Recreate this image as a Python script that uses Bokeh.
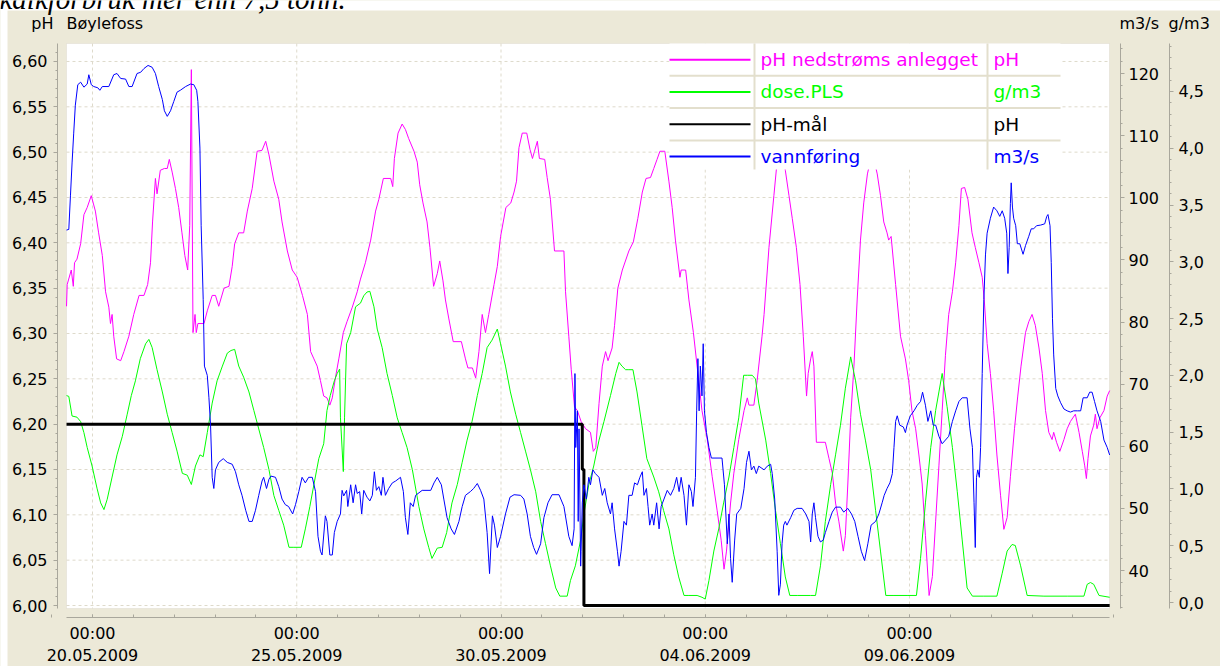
import numpy as np
import pandas as pd
from bokeh.plotting import figure
from bokeh.models import (Range1d, LinearAxis, FixedTicker, SingleIntervalTicker,
                          CustomJSTickFormatter, BoxAnnotation, Label, ColumnDataSource)
from bokeh.embed import file_html
from bokeh.resources import INLINE

# ---------------- data (time = days after 20.05.2009 00:00) ----------------
BASE = pd.Timestamp("2009-05-20 00:00")

ph_days = [-0.636, -0.62, -0.52, -0.47, -0.44, -0.38, -0.29, -0.21, -0.13, -0.03, 0.07, 0.15, 0.24, 0.32,
           0.40, 0.44, 0.48, 0.52, 0.59, 0.69, 0.77, 0.89, 1.01, 1.14, 1.26, 1.35, 1.42, 1.47, 1.54, 1.58,
           1.66, 1.76, 1.83, 1.88, 1.95, 2.03, 2.11, 2.19, 2.26, 2.33, 2.38, 2.42, 2.46, 2.51, 2.54, 2.58,
           2.73, 2.81, 2.93, 3.01, 3.09, 3.22, 3.34, 3.42, 3.48, 3.58, 3.70, 3.79, 3.91, 4.03, 4.15, 4.24,
           4.32, 4.44, 4.56, 4.64, 4.77, 4.89, 5.01, 5.14, 5.26, 5.34, 5.42, 5.50, 5.58, 5.66, 5.74, 5.81,
           5.87, 5.95, 6.03, 6.14, 6.23, 6.36, 6.48, 6.56, 6.68, 6.81, 6.93, 7.01, 7.12, 7.30, 7.35, 7.39,
           7.48, 7.58, 7.66, 7.74, 7.87, 7.95, 8.01, 8.09, 8.19, 8.26, 8.35, 8.44, 8.50, 8.58, 8.64, 8.72,
           8.83, 9.03, 9.13, 9.19, 9.30, 9.38, 9.46, 9.54, 9.62, 9.70, 9.83, 9.91, 9.99, 10.12, 10.24, 10.32,
           10.38, 10.44, 10.52, 10.63, 10.71, 10.77, 10.82, 10.89, 10.94, 11.07, 11.13, 11.21, 11.31, 11.54,
           11.58, 11.66, 11.72, 11.80, 11.87, 11.96, 12.07, 12.19, 12.26, 12.32, 12.40, 12.48, 12.56, 12.62,
           12.72, 12.78, 12.86, 12.97, 13.13, 13.24, 13.35, 13.46, 13.55, 13.66, 13.74, 13.82, 13.89, 14.01,
           14.11, 14.19, 14.27, 14.38, 14.41, 14.52, 14.60, 14.71, 14.82, 14.92, 15.05, 15.17, 15.29, 15.39,
           15.46, 15.52, 15.62, 15.70, 15.82, 15.95, 16.03, 16.07, 16.19, 16.27, 16.39, 16.44, 16.56, 16.68,
           16.76, 16.84, 16.96, 17.05, 17.13, 17.23, 17.32, 17.40, 17.48, 17.52, 17.58, 17.62, 17.66, 17.72,
           17.94, 18.03, 18.11, 18.19, 18.27, 18.38, 18.43, 18.49, 18.56, 18.64, 18.72, 18.80, 18.88, 18.97,
           19.09, 19.21, 19.29, 19.37, 19.45, 19.49, 19.55, 19.66, 19.78, 19.90, 19.98, 20.06, 20.15, 20.23,
           20.31, 20.39, 20.48, 20.56, 20.64, 20.72, 20.80, 20.88, 20.96, 21.05, 21.13, 21.21, 21.27, 21.35,
           21.43, 21.53, 21.61, 21.70, 21.78, 21.83, 21.90, 21.98, 22.06, 22.14, 22.23, 22.31, 22.39, 22.47,
           22.57, 22.65, 22.73, 22.84, 22.92, 23.00, 23.08, 23.17, 23.25, 23.33, 23.41, 23.49, 23.53, 23.60,
           23.68, 23.78, 23.86, 23.94, 24.06, 24.15, 24.23, 24.29, 24.33, 24.37, 24.43, 24.51, 24.55, 24.59,
           24.66, 24.76, 24.84, 24.90]
ph_vals = [6.330, 6.354, 6.370, 6.352, 6.378, 6.382, 6.399, 6.431, 6.439, 6.452, 6.435, 6.411, 6.386, 6.346,
           6.329, 6.311, 6.321, 6.297, 6.272, 6.270, 6.280, 6.297, 6.321, 6.342, 6.342, 6.354, 6.378, 6.423,
           6.471, 6.454, 6.480, 6.482, 6.482, 6.492, 6.478, 6.460, 6.439, 6.411, 6.386, 6.370, 6.419, 6.591,
           6.301, 6.321, 6.301, 6.311, 6.311, 6.325, 6.342, 6.342, 6.330, 6.350, 6.352, 6.374, 6.399, 6.411,
           6.411, 6.435, 6.460, 6.501, 6.502, 6.512, 6.497, 6.468, 6.448, 6.423, 6.391, 6.370, 6.362, 6.342,
           6.321, 6.280, 6.272, 6.264, 6.248, 6.231, 6.229, 6.221, 6.229, 6.252, 6.272, 6.301, 6.313, 6.329,
           6.346, 6.360, 6.378, 6.403, 6.435, 6.448, 6.471, 6.471, 6.462, 6.493, 6.521, 6.531, 6.525, 6.515,
           6.501, 6.489, 6.464, 6.444, 6.423, 6.395, 6.352, 6.366, 6.380, 6.358, 6.337, 6.317, 6.291, 6.291,
           6.272, 6.262, 6.262, 6.251, 6.280, 6.321, 6.301, 6.321, 6.354, 6.374, 6.407, 6.439, 6.444, 6.456,
           6.468, 6.505, 6.521, 6.521, 6.503, 6.493, 6.501, 6.512, 6.493, 6.492, 6.472, 6.448, 6.391, 6.391,
           6.346, 6.297, 6.260, 6.219, 6.215, 6.203, 6.195, 6.191, 6.170, 6.174, 6.223, 6.264, 6.280, 6.270,
           6.284, 6.309, 6.350, 6.370, 6.391, 6.401, 6.427, 6.456, 6.471, 6.472, 6.482, 6.492, 6.501, 6.501,
           6.468, 6.439, 6.403, 6.362, 6.370, 6.370, 6.337, 6.301, 6.256, 6.215, 6.183, 6.142, 6.105, 6.072,
           6.040, 6.060, 6.113, 6.146, 6.183, 6.215, 6.229, 6.221, 6.221, 6.248, 6.297, 6.321, 6.395, 6.452,
           6.490, 6.510, 6.480, 6.452, 6.427, 6.395, 6.354, 6.297, 6.231, 6.256, 6.272, 6.280, 6.264, 6.180,
           6.180, 6.162, 6.146, 6.113, 6.093, 6.060, 6.077, 6.134, 6.207, 6.264, 6.338, 6.403, 6.444, 6.476,
           6.500, 6.476, 6.452, 6.423, 6.411, 6.403, 6.407, 6.354, 6.297, 6.272, 6.248, 6.215, 6.195, 6.166,
           6.134, 6.077, 6.011, 6.032, 6.093, 6.154, 6.215, 6.276, 6.321, 6.346, 6.378, 6.419, 6.460, 6.461,
           6.448, 6.411, 6.395, 6.378, 6.362, 6.337, 6.289, 6.256, 6.215, 6.166, 6.121, 6.084, 6.097, 6.142,
           6.195, 6.231, 6.264, 6.301, 6.313, 6.321, 6.309, 6.284, 6.256, 6.215, 6.191, 6.183, 6.191, 6.180,
           6.170, 6.183, 6.195, 6.203, 6.211, 6.191, 6.170, 6.154, 6.140, 6.162, 6.187, 6.199, 6.211, 6.195,
           6.207, 6.215, 6.231, 6.237]

dose_days = [-0.636, -0.58, -0.50, -0.38, -0.29, -0.21, -0.13, -0.01, 0.11, 0.20, 0.28, 0.36, 0.48, 0.60,
             0.73, 0.85, 0.95, 1.05, 1.17, 1.30, 1.38, 1.46, 1.58, 1.71, 1.83, 1.95, 2.07, 2.20, 2.32, 2.42,
             2.52, 2.63, 2.71, 2.81, 2.93, 3.05, 3.18, 3.30, 3.39, 3.48, 3.58, 3.70, 3.83, 3.95, 4.07, 4.19,
             4.32, 4.44, 4.56, 4.68, 4.81, 4.93, 5.11, 5.21, 5.32, 5.42, 5.54, 5.66, 5.74, 5.82, 5.92, 5.99,
             6.05, 6.07, 6.14, 6.17, 6.22, 6.32, 6.44, 6.56, 6.64, 6.72, 6.79, 6.89, 6.97, 7.09, 7.21, 7.34,
             7.46, 7.58, 7.70, 7.83, 7.99, 8.11, 8.23, 8.31, 8.44, 8.56, 8.67, 8.80, 8.93, 9.05, 9.17, 9.29,
             9.42, 9.54, 9.66, 9.78, 9.91, 9.99, 10.11, 10.23, 10.36, 10.48, 10.60, 10.72, 10.85, 10.97, 11.09,
             11.21, 11.34, 11.44, 11.62, 11.70, 11.82, 11.95, 12.03, 12.15, 12.27, 12.40, 12.52, 12.68, 12.81,
             12.89, 12.96, 13.05, 13.13, 13.23, 13.33, 13.45, 13.57, 13.74, 13.86, 13.98, 14.11, 14.23, 14.35,
             14.48, 14.60, 14.80, 14.92, 15.00, 15.09, 15.21, 15.33, 15.45, 15.58, 15.70, 15.82, 15.94, 16.03,
             16.15, 16.23, 16.31, 16.48, 16.60, 16.72, 16.84, 16.96, 17.07, 17.25, 17.58, 17.70, 17.82, 17.94,
             18.07, 18.19, 18.31, 18.43, 18.56, 18.68, 18.80, 18.92, 19.05, 19.17, 19.29, 19.42, 19.62, 19.94,
             20.17, 20.27, 20.39, 20.52, 20.64, 20.72, 20.80, 20.92, 21.05, 21.17, 21.29, 21.41, 21.54, 21.82,
             22.14, 22.27, 22.39, 22.51, 22.59, 22.72, 22.88, 23.29, 23.86, 24.27, 24.35, 24.43, 24.51, 24.64,
             24.90]
dose_vals = [1.822, 1.815, 1.642, 1.632, 1.593, 1.496, 1.365, 1.202, 1.007, 0.877, 0.818, 0.909, 1.105, 1.300,
             1.463, 1.658, 1.822, 1.952, 2.147, 2.278, 2.317, 2.245, 2.050, 1.854, 1.658, 1.496, 1.333, 1.137,
             1.121, 1.039, 1.202, 1.300, 1.284, 1.496, 1.756, 1.952, 2.082, 2.196, 2.219, 2.229, 2.082, 1.984,
             1.854, 1.691, 1.528, 1.365, 1.170, 0.942, 0.811, 0.681, 0.486, 0.486, 0.486, 0.648, 0.844, 1.039,
             1.267, 1.398, 1.691, 1.822, 1.952, 2.017, 2.056, 1.626, 1.153, 1.626, 2.278, 2.376, 2.604, 2.636,
             2.701, 2.734, 2.740, 2.604, 2.408, 2.245, 2.017, 1.822, 1.626, 1.496, 1.365, 1.170, 0.844, 0.648,
             0.486, 0.388, 0.479, 0.486, 0.616, 0.877, 1.039, 1.235, 1.430, 1.593, 1.822, 2.017, 2.245, 2.310,
             2.408, 2.278, 2.082, 1.854, 1.658, 1.496, 1.333, 1.170, 0.975, 0.714, 0.518, 0.323, 0.128, 0.056,
             0.056, 0.193, 0.323, 0.551, 0.779, 1.039, 1.202, 1.430, 1.593, 1.822, 2.017, 2.115, 2.082, 2.050,
             2.050, 2.050, 1.854, 1.561, 1.267, 1.105, 0.975, 0.811, 0.648, 0.420, 0.225, 0.062, 0.062, 0.062,
             0.046, 0.030, 0.193, 0.453, 0.648, 0.877, 1.105, 1.365, 1.626, 2.001, 2.001, 2.001, 1.968, 1.756,
             1.430, 1.137, 0.811, 0.518, 0.225, 0.062, 0.062, 0.062, 0.062, 0.323, 0.714, 1.039, 1.300, 1.561,
             1.887, 2.163, 1.952, 1.658, 1.430, 1.170, 0.811, 0.453, 0.062, 0.062, 0.062, 0.062, 0.388, 0.877,
             1.365, 1.691, 1.854, 2.017, 1.724, 1.365, 0.975, 0.551, 0.128, 0.056, 0.056, 0.056, 0.258, 0.453,
             0.511, 0.502, 0.323, 0.062, 0.056, 0.056, 0.056, 0.160, 0.176, 0.160, 0.062, 0.046]

flow_days = [-0.636, -0.58, -0.54, -0.50, -0.46, -0.42, -0.36, -0.29, -0.21, -0.13, -0.09, -0.03, 0.03, 0.13,
             0.18, 0.24, 0.40, 0.52, 0.60, 0.69, 0.81, 0.89, 0.97, 1.09, 1.18, 1.26, 1.36, 1.46, 1.54, 1.62,
             1.71, 1.76, 1.83, 1.91, 1.99, 2.07, 2.15, 2.28, 2.40, 2.48, 2.55, 2.58, 2.63, 2.66, 2.71, 2.74,
             2.81, 2.85, 2.89, 2.93, 2.97, 3.01, 3.09, 3.20, 3.30, 3.42, 3.50, 3.58, 3.66, 3.75, 3.83, 3.91,
             3.99, 4.07, 4.15, 4.19, 4.26, 4.32, 4.37, 4.48, 4.56, 4.64, 4.72, 4.80, 4.90, 4.97, 5.05, 5.13,
             5.21, 5.29, 5.38, 5.46, 5.52, 5.58, 5.62, 5.70, 5.74, 5.81, 5.87, 5.92, 5.99, 6.07, 6.11, 6.15,
             6.22, 6.25, 6.32, 6.38, 6.44, 6.48, 6.54, 6.59, 6.64, 6.72, 6.79, 6.85, 6.90, 6.95, 7.01, 7.07,
             7.11, 7.17, 7.25, 7.34, 7.42, 7.48, 7.54, 7.61, 7.66, 7.72, 7.78, 7.85, 7.91, 8.07, 8.28, 8.36,
             8.44, 8.54, 8.60, 8.68, 8.78, 8.86, 8.97, 9.05, 9.13, 9.25, 9.33, 9.42, 9.50, 9.58, 9.66, 9.72,
             9.79, 9.84, 9.91, 9.99, 10.11, 10.22, 10.32, 10.48, 10.56, 10.64, 10.72, 10.80, 10.87, 10.97,
             11.05, 11.15, 11.25, 11.42, 11.54, 11.66, 11.74, 11.79, 11.81, 11.83, 11.87, 11.89, 11.91, 11.95,
             11.96, 11.99, 12.03, 12.09, 12.15, 12.19, 12.25, 12.31, 12.40, 12.48, 12.54, 12.60, 12.68, 12.72,
             12.78, 12.85, 12.89, 12.94, 13.01, 13.07, 13.13, 13.21, 13.27, 13.34, 13.40, 13.46, 13.50, 13.56,
             13.60, 13.64, 13.70, 13.74, 13.81, 13.87, 13.92, 13.99, 14.07, 14.15, 14.23, 14.30, 14.36, 14.41,
             14.48, 14.54, 14.60, 14.66, 14.70, 14.76, 14.79, 14.82, 14.85, 14.88, 14.92, 14.95, 14.98, 15.03,
             15.09, 15.15, 15.41, 15.47, 15.54, 15.58, 15.62, 15.66, 15.72, 15.77, 15.87, 15.95, 16.01, 16.07,
             16.13, 16.19, 16.25, 16.31, 16.44, 16.52, 16.60, 16.64, 16.70, 16.76, 16.80, 16.84, 16.88, 16.92,
             16.96, 17.00, 17.09, 17.17, 17.25, 17.37, 17.46, 17.54, 17.58, 17.62, 17.66, 17.70, 17.76, 17.82,
             17.89, 17.94, 18.03, 18.11, 18.19, 18.31, 18.39, 18.49, 18.58, 18.66, 18.74, 18.82, 18.90, 18.98,
             19.06, 19.17, 19.25, 19.33, 19.38, 19.45, 19.52, 19.58, 19.62, 19.66, 19.70, 19.76, 19.85, 19.90,
             19.94, 20.02, 20.11, 20.19, 20.27, 20.32, 20.39, 20.45, 20.52, 20.58, 20.64, 20.72, 20.80, 20.88,
             20.96, 21.05, 21.13, 21.21, 21.29, 21.41, 21.48, 21.54, 21.58, 21.61, 21.64, 21.67, 21.71, 21.74,
             21.78, 21.82, 21.86, 21.90, 21.98, 22.06, 22.14, 22.21, 22.27, 22.33, 22.38, 22.41, 22.44, 22.47,
             22.49, 22.52, 22.55, 22.60, 22.64, 22.70, 22.78, 22.84, 22.92, 22.98, 23.04, 23.11, 23.21, 23.31,
             23.36, 23.39, 23.44, 23.47, 23.50, 23.53, 23.58, 23.63, 23.70, 23.78, 23.86, 23.94, 24.02, 24.11,
             24.19, 24.25, 24.35, 24.41, 24.47, 24.53, 24.59, 24.68, 24.76, 24.84, 24.90]
flow_vals = [94.8, 94.9, 100.3, 105.6, 110.4, 114.9, 118.2, 118.6, 117.8, 118.3, 119.8, 118.2, 117.9, 117.7,
             117.3, 117.9, 117.9, 119.8, 120.0, 119.2, 119.1, 117.9, 117.9, 120.0, 120.2, 120.8, 121.3, 121.0,
             120.0, 117.9, 115.8, 114.0, 113.1, 114.0, 115.5, 117.0, 117.3, 117.9, 118.3, 118.2, 117.3, 115.5,
             108.0, 95.5, 83.6, 72.9, 71.4, 67.8, 63.4, 55.0, 53.2, 56.2, 57.4, 58.0, 57.4, 57.1, 55.9, 53.8,
             52.1, 49.7, 47.9, 47.9, 49.7, 52.1, 54.4, 55.0, 53.2, 54.7, 55.2, 55.0, 53.5, 51.5, 50.6, 50.3,
             49.1, 50.6, 52.7, 55.0, 54.1, 55.0, 55.0, 52.7, 45.5, 43.1, 42.5, 48.8, 47.9, 42.5, 42.5, 46.1,
             47.9, 49.1, 52.9, 52.0, 52.9, 50.3, 53.8, 50.9, 53.8, 52.4, 52.7, 49.1, 52.9, 51.8, 51.2, 52.1,
             55.9, 52.9, 53.5, 52.1, 55.0, 52.1, 53.2, 54.1, 54.4, 54.7, 55.0, 52.7, 48.5, 45.8, 50.9, 50.3,
             52.1, 52.9, 52.9, 54.1, 55.0, 53.8, 51.5, 48.5, 46.7, 45.8, 47.9, 50.3, 52.1, 52.7, 53.2, 54.0,
             52.9, 51.5, 46.1, 39.5, 48.8, 47.3, 43.7, 45.5, 49.1, 51.8, 52.2, 52.1, 51.5, 49.1, 45.5, 43.7,
             42.6, 44.3, 48.5, 50.9, 52.2, 52.2, 50.3, 45.5, 44.0, 46.7, 71.7, 59.8, 65.7, 47.9, 62.8, 40.7,
             43.1, 50.9, 53.8, 51.5, 55.0, 53.8, 56.2, 55.6, 55.0, 52.1, 53.2, 50.9, 49.1, 50.9, 46.7, 43.1,
             40.7, 43.1, 47.9, 47.3, 52.1, 52.1, 54.1, 53.8, 55.0, 55.9, 52.1, 53.2, 50.3, 47.3, 49.1, 47.3,
             50.9, 46.7, 50.3, 51.5, 52.9, 52.1, 53.2, 55.0, 52.7, 55.0, 52.1, 47.3, 53.8, 52.7, 50.3, 55.0,
             65.7, 74.1, 65.7, 72.9, 68.1, 76.5, 65.7, 62.2, 59.8, 58.1, 58.1, 53.8, 44.3, 49.1, 41.9, 38.1,
             44.9, 49.1, 50.0, 53.2, 57.4, 59.2, 56.2, 56.8, 55.6, 56.8, 56.2, 56.8, 57.1, 55.6, 51.5, 43.1,
             36.0, 37.8, 44.3, 47.3, 47.9, 47.3, 48.5, 49.7, 50.0, 50.0, 49.1, 47.9, 44.6, 49.1, 50.9, 48.5,
             45.5, 44.6, 44.9, 46.1, 47.9, 49.4, 50.2, 50.2, 49.4, 50.0, 49.1, 47.9, 45.5, 43.1, 41.6, 44.3,
             47.3, 47.9, 49.1, 50.9, 52.1, 53.2, 54.1, 55.6, 59.8, 64.0, 64.9, 63.4, 63.1, 62.2, 63.4, 64.9,
             65.7, 66.6, 67.2, 68.7, 66.6, 64.0, 65.7, 63.4, 63.4, 61.6, 60.4, 61.0, 61.6, 64.0, 65.7, 67.2,
             67.8, 67.8, 62.8, 59.8, 50.9, 43.7, 55.0, 56.2, 55.0, 59.8, 71.7, 83.6, 90.8, 94.3, 96.7, 98.5,
             97.9, 97.0, 97.9, 96.7, 94.3, 87.8, 92.0, 99.1, 102.4, 98.5, 96.7, 95.5, 92.6, 92.6, 90.9, 92.3,
             93.8, 95.0, 95.0, 95.5, 95.6, 95.8, 97.0, 97.3, 95.5, 89.6, 80.6, 74.7, 69.3, 68.1, 67.0, 66.0,
             65.7, 65.5, 65.7, 65.7, 65.7, 67.8, 67.8, 68.7, 68.7, 67.2, 65.7, 64.0, 61.0, 59.8, 58.6]

target_days = [-0.636, 11.99, 11.99, 12.03, 12.03, 24.90]
target_vals = [6.20, 6.20, 6.15, 6.15, 6.00, 6.00]

x_tick_dates = ["2009-05-20", "2009-05-25", "2009-05-30", "2009-06-04", "2009-06-09"]
ph_grid_ticks = [6.00, 6.05, 6.10, 6.15, 6.20, 6.25, 6.30, 6.35, 6.40, 6.45, 6.50, 6.55, 6.60]
series_names = ["pH nedstrøms anlegget", "dose.PLS", "pH-mål", "vannføring"]
series_units = ["pH", "g/m3", "pH", "m3/s"]
series_colors = ["#FF00FF", "#00FF00", "#000000", "#0000FF"]
left_title, chart_title = "pH", "Bøylefoss"
right_titles = ["m3/s", "g/m3"]
page_caption = "kalkforbruk mer enn 7,5 tonn."

# ---------------- layout helpers (canvas pixel -> data) ----------------
W, H = 1220, 666
FONT = "DejaVu Sans"
BEIGE = "#ECE9D8"
X0_PX, PX_PER_DAY = 92.0, 40.85


def to_ms(ts):
    return ts.value / 1e6


def px_x(px):
    return to_ms(BASE + pd.Timedelta(days=(px - X0_PX) / PX_PER_DAY))


def px_ph(py):
    return 6.0 + (605.0 - py) / 906.7


def px_q(py):
    return 40.0 + (570.0 - py) / 6.2125


def px_g(py):
    return (602.0 - py) / 113.56


WL, WR, WT, WB = 66, 1109, 43, 608      # white plotting area
AX_L, AX_Q, AX_G, AX_B = 57, 1120, 1169, 617   # axis line positions

p = figure(x_axis_type="datetime",
           x_range=Range1d(px_x(0), px_x(W)),
           y_range=Range1d(px_ph(H), px_ph(0)),
           width=W, height=H, min_border=0,
           output_backend="svg", toolbar_location=None,
           border_fill_color=BEIGE, background_fill_color=BEIGE,
           outline_line_color=None)

p.extra_y_ranges = {"q": Range1d(px_q(H), px_q(0)), "g": Range1d(px_g(H), px_g(0))}

AX_COL = "#a9a79c"


def style_axis(ax, label_size="16px"):
    ax.axis_line_color = AX_COL
    ax.major_tick_line_color = AX_COL
    ax.minor_tick_line_color = AX_COL
    ax.major_label_text_font = FONT
    ax.major_label_text_font_size = label_size
    ax.major_label_text_color = "black"


# left pH axis
lax = p.left[0]
lax.ticker = SingleIntervalTicker(interval=0.05, num_minor_ticks=5)
lax.formatter = CustomJSTickFormatter(code="return tick.toFixed(2).replace('.', ',');")
lax.bounds = (px_ph(WB), px_ph(WT))
lax.fixed_location = px_x(AX_L)
style_axis(lax)
lax.major_tick_out, lax.major_tick_in = 4, 0
lax.minor_tick_out, lax.minor_tick_in = 2, 0
lax.major_label_standoff = 6

# right axes
qax = LinearAxis(y_range_name="q", ticker=SingleIntervalTicker(interval=10, num_minor_ticks=5),
                 formatter=CustomJSTickFormatter(code="return tick.toFixed(0);"),
                 bounds=(px_q(WB), px_q(WT)), fixed_location=px_x(AX_Q))
style_axis(qax)
qax.major_tick_out, qax.major_tick_in = 4, 0
qax.minor_tick_out, qax.minor_tick_in = 2, 0
qax.major_label_standoff = 4
p.add_layout(qax, "right")

gax = LinearAxis(y_range_name="g", ticker=SingleIntervalTicker(interval=0.5, num_minor_ticks=5),
                 formatter=CustomJSTickFormatter(code="return tick.toFixed(1).replace('.', ',');"),
                 bounds=(px_g(WB), px_g(WT)), fixed_location=px_x(AX_G))
style_axis(gax)
gax.major_tick_out, gax.major_tick_in = 4, 0
gax.minor_tick_out, gax.minor_tick_in = 2, 0
gax.major_label_standoff = 5
p.add_layout(gax, "right")

# bottom time axis
xax = p.below[0]
major_ms = [to_ms(pd.Timestamp(s)) for s in x_tick_dates]
minor_ms = [to_ms(t) for t in pd.date_range("2009-05-19", "2009-06-14", freq="D")]
xax.ticker = FixedTicker(ticks=major_ms, minor_ticks=minor_ms)
xax.formatter = CustomJSTickFormatter(code="""
const d = new Date(tick);
const p = (n) => (n < 10 ? '0' : '') + n;
return p(d.getUTCHours()) + ':' + p(d.getUTCMinutes()) + '\\n' +
       p(d.getUTCDate()) + '.' + p(d.getUTCMonth() + 1) + '.' + d.getUTCFullYear();
""")
xax.bounds = (px_x(WL), px_x(WR))
xax.fixed_location = px_ph(AX_B)
style_axis(xax, "16px")
xax.major_label_text_line_height = 1.2
xax.major_tick_out, xax.major_tick_in = 0, 3
xax.minor_tick_out, xax.minor_tick_in = 0, 3
xax.major_label_standoff = 6

# no built-in grids (drawn inside the white area only)
p.xgrid.visible = False
p.ygrid.visible = False

# page background strips, caption and white plotting area
for box in (dict(left=px_x(0), right=px_x(W), top=px_ph(0), bottom=px_ph(10)),
            dict(left=px_x(0), right=px_x(7), top=px_ph(0), bottom=px_ph(H))):
    p.add_layout(BoxAnnotation(**box, fill_color="white", fill_alpha=1.0, line_color=None, level="image"))
p.add_layout(BoxAnnotation(left=px_x(WL), right=px_x(WR), bottom=px_ph(WB), top=px_ph(WT),
                           fill_color="white", fill_alpha=1.0, line_color="#cdc9b8",
                           line_width=1, level="image"))
p.add_layout(Label(x=px_x(-1), y=px_ph(-1.5), text=page_caption, text_color="black",
                   text_font="Liberation Serif", text_font_style="italic", text_font_size="29px",
                   text_align="left", text_baseline="alphabetic", level="image"))

GRID_COL = "#dedacb"
r_gx = p.segment(major_ms, [px_ph(WT)] * len(major_ms), major_ms, [px_ph(WB)] * len(major_ms),
                 line_color=GRID_COL, line_dash="3 3", line_width=1)
r_gy = p.segment([px_x(WL)] * len(ph_grid_ticks), ph_grid_ticks, [px_x(WR)] * len(ph_grid_ticks),
                 ph_grid_ticks, line_color=GRID_COL, line_dash="3 3", line_width=1)
r_gx.level = "underlay"
r_gy.level = "underlay"

# ---------------- series ----------------
def src(days, vals):
    return ColumnDataSource(dict(t=BASE + pd.to_timedelta(np.asarray(days), unit="D"), v=vals))


p.line("t", "v", source=src(ph_days, ph_vals), line_color=series_colors[0], line_width=1)
p.line("t", "v", source=src(dose_days, dose_vals), line_color=series_colors[1], line_width=1,
       y_range_name="g")
p.line("t", "v", source=src(target_days, target_vals), line_color=series_colors[2], line_width=3)
p.line("t", "v", source=src(flow_days, flow_vals), line_color=series_colors[3], line_width=1,
       y_range_name="q")

# ---------------- legend table ----------------
LG_L, LG_R, LG_T, LG_B = 669, 1060, 43, 169
ROW_H = 32.3
SAMPLE_R, COL1, COL2 = 750, 754, 987
p.add_layout(BoxAnnotation(left=px_x(LG_L), right=px_x(LG_R), top=px_ph(LG_T), bottom=px_ph(LG_B),
                           fill_color="white", fill_alpha=1.0, line_color=None))

sep_x0 = [px_x(LG_L)] * 3 + [px_x(COL1), px_x(COL2)]
sep_x1 = [px_x(LG_R)] * 3 + [px_x(COL1), px_x(COL2)]
sep_y0 = [px_ph(LG_T + ROW_H * (i + 1)) for i in range(3)] + [px_ph(LG_T)] * 2
sep_y1 = [px_ph(LG_T + ROW_H * (i + 1)) for i in range(3)] + [px_ph(LG_B)] * 2
r_sep = p.segment(sep_x0, sep_y0, sep_x1, sep_y1, line_color="#e3dfcd", line_width=2)
r_sep.level = "overlay"

row_c = [LG_T + ROW_H * (i + 0.5) for i in range(4)]
r_samp = p.segment([px_x(LG_L)] * 4, [px_ph(y) for y in row_c], [px_x(SAMPLE_R)] * 4,
                   [px_ph(y) for y in row_c], line_color=series_colors, line_width=2)
r_samp.level = "overlay"

for name, unit, col, yc in zip(series_names, series_units, series_colors, row_c):
    for txt, xp in ((name, 760), (unit, 993)):
        p.add_layout(Label(x=px_x(xp), y=px_ph(yc), text=txt, text_color=col,
                           text_font=FONT, text_font_size="18.5px",
                           text_align="left", text_baseline="middle", level="overlay"))

# ---------------- header texts ----------------
def header(txt, xp, align):
    p.add_layout(Label(x=px_x(xp), y=px_ph(23), text=txt, text_color="black",
                       text_font=FONT, text_font_size="16px",
                       text_align=align, text_baseline="middle"))


header(left_title, 53, "right")
header(chart_title, 66, "left")
header(right_titles[0], 1119, "left")
header(right_titles[1], 1168, "left")

open("out.html", "w").write(file_html(p, INLINE))
